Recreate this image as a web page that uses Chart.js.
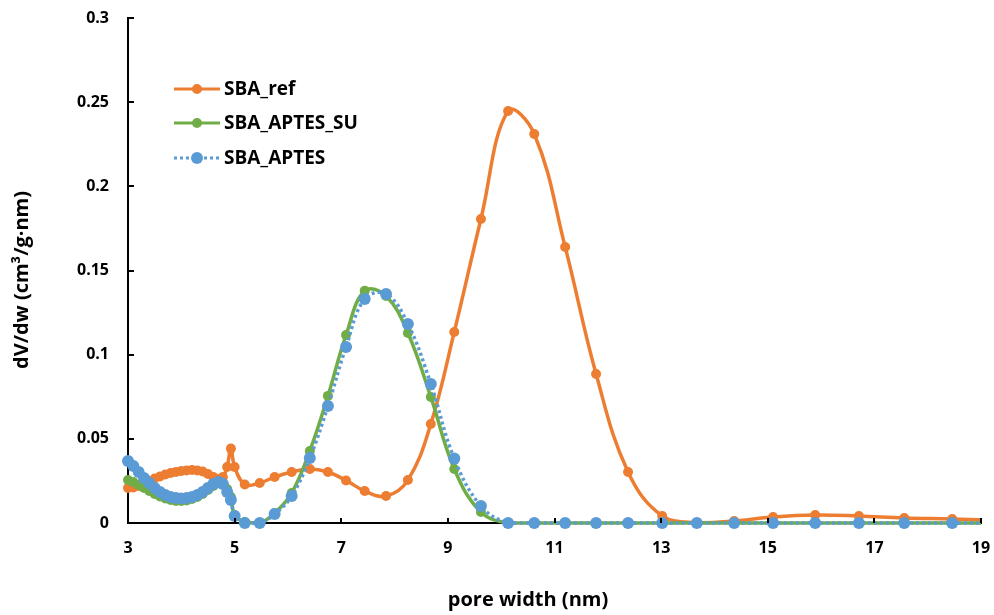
<!DOCTYPE html>
<html>
<head>
<meta charset="utf-8">
<script src="https://cdn.jsdelivr.net/npm/chart.js@4"></script>
<style>
  html, body { margin: 0; padding: 0; background: #fff; }
  #wrap { width: 994px; height: 615px; }
</style>
</head>
<body>
<div id="wrap"><canvas id="poreChart" width="994" height="615"></canvas></div>
<script>
// pore width (nm), shared by all three series
const poreWidth = [3.0, 3.1, 3.2, 3.3, 3.4, 3.5, 3.6, 3.7, 3.8, 3.9, 4.0, 4.1, 4.2, 4.3, 4.4, 4.5, 4.6, 4.7,
    4.78, 4.86, 4.93, 5.0, 5.19, 5.47, 5.75, 6.07, 6.41, 6.75, 7.09, 7.44, 7.84, 8.25, 8.68, 9.12, 9.62,
    10.13, 10.62, 11.2, 11.78, 12.38, 13.02, 13.67, 14.37, 15.1, 15.89, 16.71, 17.56, 18.46, 19.4];

const sbaRef = [0.0208, 0.0211, 0.022, 0.0232, 0.025, 0.0264, 0.0276, 0.0288, 0.0297, 0.0303, 0.0309, 0.0312, 0.0315, 0.0312, 0.0306, 0.0291, 0.0273, 0.0261,
    0.0273, 0.0333, 0.0442, 0.0333, 0.0229, 0.0238, 0.0273, 0.0303, 0.0321, 0.0303, 0.0253, 0.019, 0.016, 0.0255, 0.0588, 0.1135, 0.1806,
    0.2448, 0.2311, 0.164, 0.0885, 0.0303, 0.0042, 0.0002, 0.0012, 0.0036, 0.0048, 0.0042, 0.003, 0.0024, 0.0015];

const sbaAptesSu = [0.0255, 0.0244, 0.0226, 0.0208, 0.019, 0.0172, 0.0157, 0.0146, 0.0137, 0.0131, 0.0131, 0.0134, 0.0143, 0.0154, 0.0172, 0.0196, 0.022, 0.0238,
    0.0232, 0.0202, 0.0154, 0.0048, 0.0006, 0, 0.0059, 0.0178, 0.0428, 0.0755, 0.1117, 0.1379, 0.1349, 0.1129, 0.0749, 0.0321, 0.0065,
    0, 0, 0, 0, 0, 0, 0, 0, 0, 0, 0, 0, 0, 0];

const sbaAptes = [0.0368, 0.0339, 0.0303, 0.0267, 0.0238, 0.0208, 0.0184, 0.0166, 0.0154, 0.0149, 0.0146, 0.0149, 0.0154, 0.0166, 0.0184, 0.0208, 0.0232, 0.0244,
    0.0232, 0.0184, 0.0137, 0.0042, 0, 0, 0.0053, 0.016, 0.0386, 0.0695, 0.1046, 0.1331, 0.1361, 0.1182, 0.0826, 0.0383, 0.0101,
    0, 0, 0, 0, 0, 0, 0, 0, 0, 0, 0, 0, 0, 0];

const seriesNames = ['SBA_ref', 'SBA_APTES_SU', 'SBA_APTES'];
const xTitle = 'pore width (nm)';
const yTitle = 'dV/dw (cm³/g·nm)';

const FONT = '"Open Sans", Lato, sans-serif';
const ORANGE = '#ED7D31', GREEN = '#70AD47', BLUE = '#5B9BD5';

function toPoints(ys) {
    return poreWidth.map((x, i) => ({ x: x, y: ys[i] }));
}

function lineSet(label, ys, color, radius, dash, order) {
    return {
        label: label,
        data: toPoints(ys),
        borderColor: color,
        backgroundColor: color,
        borderWidth: 3.5,
        borderDash: dash,
        pointRadius: radius,
        pointBorderWidth: 0,
        pointBackgroundColor: color,
        tension: 0.4,
        order: order,
        clip: { left: 8, top: 0, right: 0, bottom: 8 }
    };
}

// short tick marks drawn inside the plot, like the original
const innerTicks = {
    id: 'innerTicks',
    afterDatasetsDraw(chart) {
        const ctx = chart.ctx;
        const xs = chart.scales.x, ys = chart.scales.y;
        const a = chart.chartArea;
        ctx.save();
        ctx.strokeStyle = '#000';
        ctx.lineWidth = 2;
        ys.ticks.forEach(t => {
            const y = Math.round(ys.getPixelForValue(t.value));
            ctx.beginPath(); ctx.moveTo(a.left, y); ctx.lineTo(a.left + 6, y); ctx.stroke();
        });
        xs.ticks.forEach(t => {
            const x = Math.round(xs.getPixelForValue(t.value));
            ctx.beginPath(); ctx.moveTo(x, a.bottom); ctx.lineTo(x, a.bottom - 5); ctx.stroke();
        });
        ctx.restore();
    }
};

// axis titles, placed as in the original (a bit off the plot centre)
const axisTitles = {
    id: 'axisTitles',
    afterDraw(chart) {
        const ctx = chart.ctx;
        ctx.save();
        ctx.fillStyle = '#000';
        ctx.font = 'bold 20px ' + FONT;
        ctx.textAlign = 'center';
        ctx.textBaseline = 'middle';
        ctx.fillText(xTitle, 528, 600);
        ctx.translate(22, 280);
        ctx.rotate(-Math.PI / 2);
        ctx.fillText(yTitle, 0, 0);
        ctx.restore();
    }
};

// legend in the upper left of the plot
const sideLegend = {
    id: 'sideLegend',
    afterDraw(chart) {
        const ctx = chart.ctx;
        const rows = [89, 123, 158];
        ctx.save();
        chart.data.datasets.forEach((ds, i) => {
            const y = rows[i];
            ctx.strokeStyle = ds.borderColor;
            ctx.lineWidth = 3;
            ctx.setLineDash(ds.borderDash || []);
            ctx.beginPath(); ctx.moveTo(174, y); ctx.lineTo(220, y); ctx.stroke();
            ctx.setLineDash([]);
            ctx.fillStyle = ds.borderColor;
            ctx.beginPath(); ctx.arc(197, y, ds.pointRadius, 0, Math.PI * 2); ctx.fill();
            ctx.fillStyle = '#000';
            ctx.font = 'bold 19px ' + FONT;
            ctx.textBaseline = 'middle';
            ctx.fillText(ds.label, 224, y + 1);
        });
        ctx.restore();
    }
};

new Chart(document.getElementById('poreChart'), {
    type: 'line',
    data: {
        datasets: [
            lineSet(seriesNames[0], sbaRef, ORANGE, 5, [], 3),
            lineSet(seriesNames[1], sbaAptesSu, GREEN, 5, [], 2),
            lineSet(seriesNames[2], sbaAptes, BLUE, 6, [3, 3], 1)
        ]
    },
    options: {
        responsive: false,
        animation: false,
        layout: { padding: { top: 18, right: 13, left: 0, bottom: 0 } },
        plugins: {
            legend: { display: false },
            tooltip: { enabled: false }
        },
        scales: {
            x: {
                type: 'linear',
                min: 3,
                max: 19,
                ticks: {
                    stepSize: 2,
                    padding: 16,
                    color: '#000',
                    font: { family: FONT, size: 16, weight: 'bold' }
                },
                grid: { display: false, drawTicks: false },
                border: { display: true, color: '#000', width: 2 },
                afterFit(scale) {
                    scale.height = 92;
                    scale.paddingLeft = 0;
                    scale.paddingRight = 0;
                }
            },
            y: {
                min: 0,
                max: 0.3,
                ticks: {
                    stepSize: 0.05,
                    padding: 19,
                    color: '#000',
                    font: { family: FONT, size: 16, weight: 'bold' },
                    callback: v => String(Number(v.toFixed(2)))
                },
                grid: { display: false, drawTicks: false },
                border: { display: true, color: '#000', width: 2 },
                afterFit(scale) {
                    scale.width = 128;
                    scale.paddingTop = 0;
                    scale.paddingBottom = 0;
                }
            }
        }
    },
    plugins: [innerTicks, axisTitles, sideLegend]
});
</script>
</body>
</html>
